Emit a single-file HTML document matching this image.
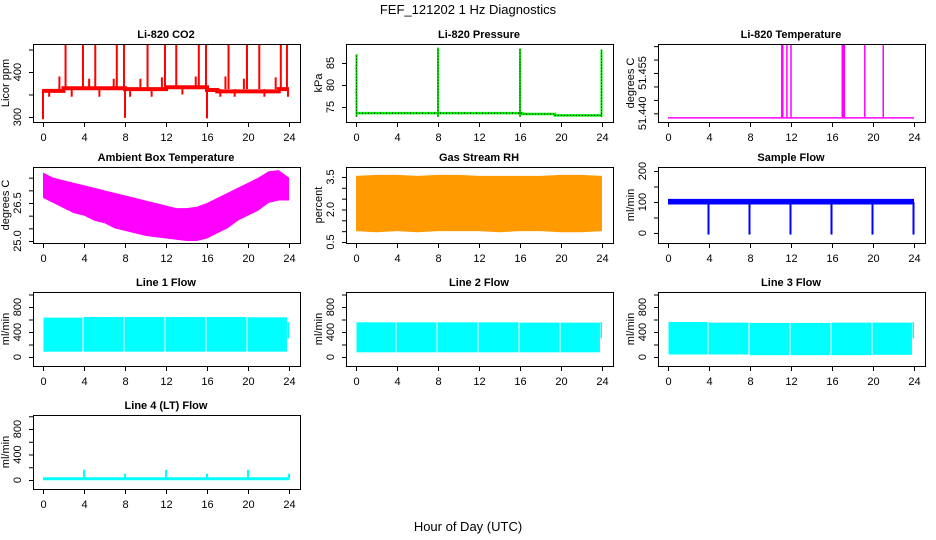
<!DOCTYPE html>
<html><head><meta charset="utf-8">
<style>
html,body{margin:0;padding:0;background:#fff;}
svg{display:block;font-family:"Liberation Sans",Arial,sans-serif;}
</style></head>
<body>
<svg id="chart" width="936" height="540" viewBox="0 0 936 540" xmlns="http://www.w3.org/2000/svg">
<text x="468" y="14" text-anchor="middle" font-size="13">FEF_121202  1 Hz Diagnostics</text>
<text x="468" y="531" text-anchor="middle" font-size="13">Hour of Day (UTC)</text>
</svg>
<script>
// ---- data ----
const xTicks = [0,4,8,12,16,20,24];
// CO2
const co2BaseT = [0,2,2,8,8,12,12,16,16,17,17,23,23,24];
const co2BaseV = [358,358,364,364,362,362,366,366,360,360,357,357,362,362];
const co2SpikeT = [2.2,3.9,5.1,7.2,7.9,10.2,11.9,13.0,15.2,15.9,18.1,19.9,21.1,23.2,23.8,1.6,4.5,6.9,9.5,11.6,14.9,17.8,19.6,22.7,0.0,8.0,16.0,0.6,2.8,5.5,8.5,10.6,13.6,17.3,18.7,21.6,23.9];
const co2SpikeV = [470,470,465,470,465,470,470,465,470,465,470,470,465,470,465,390,385,385,385,388,390,390,385,388,295,298,297,345,345,345,345,345,350,345,345,345,345];
// Pressure
const presBaseT = [0,16.2,16.2,19.4,19.4,23.9];
const presBaseV = [73.6,73.6,73.4,73.4,73.1,73.1];
const presSpikeT = [0.05,8.0,16.0,23.95];
const presSpikeV = [87,88.5,88.3,88];
// Li-820 temperature
const ltBase = 51.4383;
const ltSpikeT = [11.1,11.2,11.6,12.0,17.0,17.1,17.2,19.2,21.0];
const ltSpikeV = [51.466,51.466,51.466,51.466,51.466,51.466,51.466,51.466,51.466];
// Ambient box temperature envelope (hourly)
const ambT = [0,1,2,3,4,5,6,7,8,9,10,11,12,13,14,15,16,17,18,19,20,21,22,23,24];
const ambHi = [27.7,27.5,27.4,27.3,27.2,27.1,27.0,26.9,26.8,26.7,26.6,26.5,26.4,26.3,26.3,26.35,26.5,26.7,26.9,27.1,27.3,27.5,27.75,27.8,27.5];
const ambLo = [26.7,26.5,26.3,26.1,26.0,25.8,25.7,25.5,25.4,25.3,25.2,25.15,25.1,25.05,25.0,25.0,25.1,25.3,25.5,25.8,26.0,26.2,26.5,26.6,26.6];
// Gas stream RH envelope
const rhT = [0,2,4,6,8,10,12,14,16,18,20,22,24];
const rhHi = [3.55,3.6,3.6,3.55,3.6,3.6,3.55,3.55,3.55,3.55,3.6,3.6,3.55];
const rhLo = [1.0,0.95,1.0,0.95,1.0,1.0,1.0,0.95,1.0,1.0,0.95,0.95,1.0];
// Sample flow
const sfT = [0,24];
const sfHi = [110,110];
const sfLo = [92,92];
const sfDipT = [3.95,7.95,11.95,15.95,19.95,23.95];
const sfDipV = [-5,-5,-5,-5,-5,-5];
// Line flows: segments
const lfStart = [0.05,3.95,7.95,11.95,15.95,19.95];
const lfEnd = [3.85,7.85,11.85,15.85,19.85,23.8];
const l1Hi = [630,640,640,640,640,635];
const l1Lo = [85,85,85,85,85,85];
const l2Hi = [555,555,555,555,550,550];
const l2Lo = [75,75,75,75,75,75];
const l3Hi = [560,550,545,545,550,550];
const l3Lo = [40,40,30,30,30,35];
// Line 4
const l4Base = 20;
const l4SpikeT = [4,8,12,16,20,24];
const l4SpikeV = [160,100,160,100,160,100];

// ---- drawing ----
const svg = document.getElementById('chart');
const NS = 'http://www.w3.org/2000/svg';
function el(tag, attrs, parent){
  const e = document.createElementNS(NS, tag);
  for (const k in attrs) e.setAttribute(k, attrs[k]);
  (parent||svg).appendChild(e);
  return e;
}
const colX = [33,346,658];
const rowY = [[44,122],[167,243],[292,366],[415,489]];
let clipId = 0;
function panel(cfg){
  const bx = colX[cfg.col], top = rowY[cfg.row][0], bot = rowY[cfg.row][1];
  const g = el('g', {});
  
  
  const xs = t => bx + 10 + t * (246/24);
  const ys = v => cfg.ya + (v - cfg.va) * (cfg.yb - cfg.ya) / (cfg.vb - cfg.va);
  const tt = el('text', {x: bx+133, y: rowY[cfg.row][0]-6, 'text-anchor':'middle', 'font-size':'11', 'font-weight':'bold'}, g);
  tt.textContent = cfg.title;
  
  
  const cid = 'c' + (clipId++);
  const cp = el('clipPath', {id: cid}, g);
  el('rect', {x: bx, y: top, width: 267, height: bot-top}, cp);
  const dg = el('g', {'clip-path': 'url(#' + cid + ')'}, g);
  
  
  cfg.draw(dg, xs, ys);
  const b = el('rect', {x: bx+0.5, y: top+0.5, width: 267, height: bot-top, fill: 'none', stroke: '#000', 'stroke-width': 1}, g);
  
  
  const xa = el('g', {}, g);
  
  
  el('line', {x1: xs(0), x2: xs(24), y1: bot+0.5, y2: bot+0.5, stroke: '#000'}, xa);
  xTicks.forEach(t => {
    el('line', {x1: xs(t)+0.5, x2: xs(t)+0.5, y1: bot, y2: bot+5, stroke: '#000'}, xa);
    const tx = el('text', {x: xs(t)+0.5, y: bot+19, 'text-anchor': 'middle', 'font-size': '11'}, xa);
    tx.textContent = t;
  });
  const ya = el('g', {}, g);
  
  
  const ty = cfg.ticks.map(ys);
  el('line', {x1: bx+0.5, x2: bx+0.5, y1: Math.min(...ty), y2: Math.max(...ty), stroke: '#000'}, ya);
  cfg.ticks.forEach((v, i) => {
    el('line', {x1: bx-4, x2: bx+0.5, y1: ty[i]+0.5, y2: ty[i]+0.5, stroke: '#000'}, ya);
  });
  cfg.labels.forEach(l => {
    const y = ys(l.v);
    const tx = el('text', {x: bx-12, y: y, 'text-anchor': 'middle', 'font-size': '11', transform: 'rotate(-90 ' + (bx-12) + ' ' + y + ')'}, ya);
    tx.textContent = l.t;
  });
  const yl = el('text', {x: bx-24, y: (top+bot)/2, 'text-anchor': 'middle', 'font-size': '11', transform: 'rotate(-90 ' + (bx-24) + ' ' + ((top+bot)/2) + ')'}, g);
  yl.textContent = cfg.ylab;
  
  
}
function poly(g, xs, ys, T, V, attrs){
  return el('polyline', Object.assign({points: T.map((t,i) => xs(t)+','+ys(V[i])).join(' '), fill: 'none'}, attrs), g);
}
function envelope(g, xs, ys, T, H, L, fill){
  const pts = T.map((t,i) => xs(t)+','+ys(H[i])).concat(T.slice().reverse().map((t,j) => xs(t)+','+ys(L[T.length-1-j])));
  return el('polygon', {points: pts.join(' '), fill: fill}, g);
}

panel({col:0,row:0,name:'panel-co2',title:'Li-820 CO2',ylab:'Licor ppm',va:300,ya:117,vb:400,yb:72,
  ticks:[300,350,400,450],labels:[{v:300,t:'300'},{v:400,t:'400'}],
  draw:(g,xs,ys)=>{
    poly(g,xs,ys,co2BaseT,co2BaseV,{stroke:'#ff0000','stroke-width':4});
    co2SpikeT.forEach((t,i)=>{
      const s = el('line',{x1:xs(t),x2:xs(t),y1:ys(362),y2:ys(co2SpikeV[i]),stroke:'#ff0000','stroke-width':2},g);
      
      
    });
  }});

panel({col:1,row:0,name:'panel-pressure',title:'Li-820 Pressure',ylab:'kPa',va:75,ya:107,vb:85,yb:63,
  ticks:[75,80,85],labels:[{v:75,t:'75'},{v:80,t:'80'},{v:85,t:'85'}],
  draw:(g,xs,ys)=>{
    poly(g,xs,ys,presBaseT,presBaseV,{stroke:'#00ee00','stroke-width':2.5});
    poly(g,xs,ys,presBaseT,presBaseV,{stroke:'#000','stroke-width':1,'stroke-dasharray':'1,2'});
    presSpikeT.forEach((t,i)=>{
      el('line',{x1:xs(t),x2:xs(t),y1:ys(72.8),y2:ys(presSpikeV[i]),stroke:'#00ee00','stroke-width':2},g);
      el('line',{x1:xs(t),x2:xs(t),y1:ys(72.8),y2:ys(presSpikeV[i]),stroke:'#000','stroke-width':1,'stroke-dasharray':'1,2'},g);
    });
  }});

panel({col:2,row:0,name:'panel-li820-temp',title:'Li-820 Temperature',ylab:'degrees C',va:51.440,ya:113.3,vb:51.455,yb:73,
  ticks:[51.440,51.445,51.450,51.455,51.460,51.465],labels:[{v:51.440,t:'51.440'},{v:51.455,t:'51.455'}],
  draw:(g,xs,ys)=>{
    poly(g,xs,ys,[0,24],[ltBase,ltBase],{stroke:'#ff00ff','stroke-width':1.5});
    ltSpikeT.forEach((t,i)=>{
      el('line',{x1:xs(t),x2:xs(t),y1:ys(ltBase),y2:ys(ltSpikeV[i]),stroke:'#ff00ff','stroke-width':1.5},g);
    });
  }});

panel({col:0,row:1,name:'panel-ambient-temp',title:'Ambient Box Temperature',ylab:'degrees C',va:25.0,ya:241,vb:26.5,yb:203,
  ticks:[25.0,25.5,26.0,26.5,27.0,27.5],labels:[{v:25.0,t:'25.0'},{v:26.5,t:'26.5'}],
  draw:(g,xs,ys)=>{ envelope(g,xs,ys,ambT,ambHi,ambLo,'#ff00ff'); }});

panel({col:1,row:1,name:'panel-gas-rh',title:'Gas Stream RH',ylab:'percent',va:0.5,ya:242,vb:3.5,yb:177,
  ticks:[0.5,1.0,1.5,2.0,2.5,3.0,3.5],labels:[{v:0.5,t:'0.5'},{v:2.0,t:'2.0'},{v:3.5,t:'3.5'}],
  draw:(g,xs,ys)=>{ envelope(g,xs,ys,rhT,rhHi,rhLo,'#ff9a00'); }});

panel({col:2,row:1,name:'panel-sample-flow',title:'Sample Flow',ylab:'ml/min',va:0,ya:233,vb:200,yb:171,
  ticks:[0,50,100,150,200],labels:[{v:0,t:'0'},{v:100,t:'100'},{v:200,t:'200'}],
  draw:(g,xs,ys)=>{
    envelope(g,xs,ys,sfT,sfHi,sfLo,'#0000ff');
    sfDipT.forEach((t,i)=>{
      el('line',{x1:xs(t),x2:xs(t),y1:ys(100),y2:ys(sfDipV[i]),stroke:'#0000ff','stroke-width':2},g);
    });
  }});

function flowPanel(col,row,name,title,hi,lo,ya,yb){
  panel({col:col,row:row,name:name,title:title,ylab:'ml/min',va:0,ya:ya,vb:800,yb:yb,
    ticks:[0,200,400,600,800,1000],labels:[{v:0,t:'0'},{v:400,t:'400'},{v:800,t:'800'}],
    draw:(g,xs,ys)=>{
      lfStart.forEach((s,i)=>{
        const r = el('rect',{x:xs(s),y:ys(hi[i]),width:xs(lfEnd[i])-xs(s),height:ys(lo[i])-ys(hi[i]),fill:'#00ffff'},g);
        
        
      });
      el('rect',{x:xs(23.85),y:ys(560),width:xs(24)-xs(23.85),height:ys(300)-ys(560),fill:'#00ffff'},g);
    }});
}
flowPanel(0,2,'panel-line1-flow','Line 1 Flow',l1Hi,l1Lo,357,307);
flowPanel(1,2,'panel-line2-flow','Line 2 Flow',l2Hi,l2Lo,357,307);
flowPanel(2,2,'panel-line3-flow','Line 3 Flow',l3Hi,l3Lo,357,307);

panel({col:0,row:3,name:'panel-line4-flow',title:'Line 4 (LT) Flow',ylab:'ml/min',va:0,ya:480,vb:800,yb:429,
  ticks:[0,200,400,600,800,1000],labels:[{v:0,t:'0'},{v:400,t:'400'},{v:800,t:'800'}],
  draw:(g,xs,ys)=>{
    poly(g,xs,ys,[0,24],[l4Base,l4Base],{stroke:'#00ffff','stroke-width':3});
    l4SpikeT.forEach((t,i)=>{
      el('line',{x1:xs(t),x2:xs(t),y1:ys(l4Base),y2:ys(l4SpikeV[i]),stroke:'#00ffff','stroke-width':2},g);
    });
  }});
</script>
</body></html>
